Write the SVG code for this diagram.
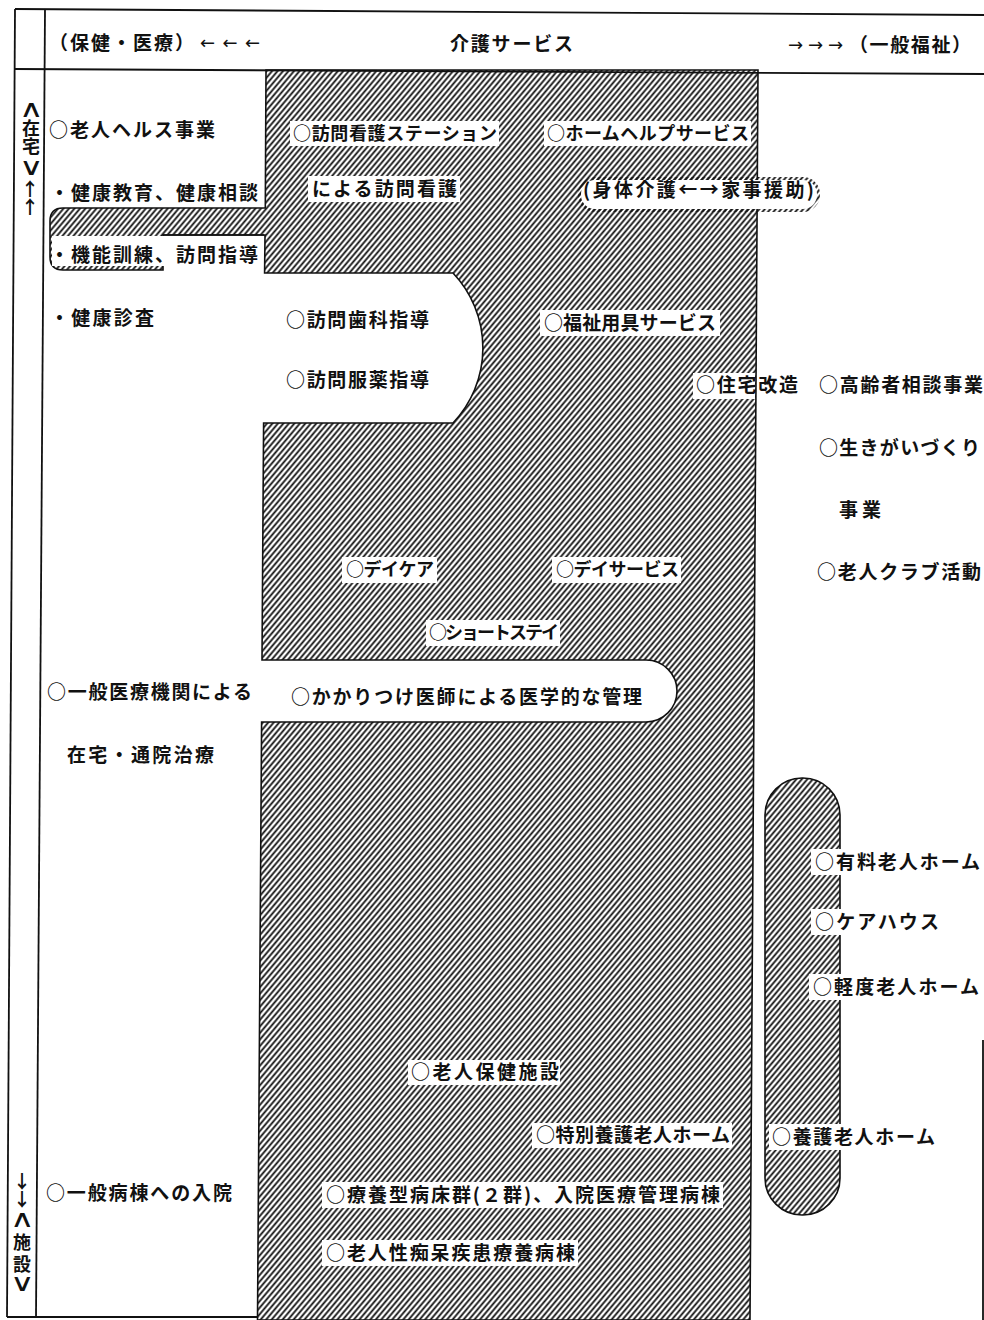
<svg xmlns="http://www.w3.org/2000/svg" width="984" height="1320" viewBox="0 0 984 1320">
<defs>
<pattern id="hatch" patternUnits="userSpaceOnUse" width="4.2" height="4.2" patternTransform="rotate(40)">
<line x1="2.1" y1="-1" x2="2.1" y2="5.2" stroke="#111" stroke-width="1.8"/>
</pattern>
<style>
.t{font-family:"Noto Sans CJK JP","Noto Sans CJK SC",sans-serif;font-size:19px;font-weight:bold;fill:#111}
.s{font-size:18px}
.a{font-family:"DejaVu Sans",sans-serif;font-size:18px;fill:#111}
.v{font-family:"Noto Sans CJK JP","Noto Sans CJK SC",sans-serif;font-size:18px;font-weight:bold;fill:#111;writing-mode:vertical-rl;text-orientation:upright}
.w{font-family:"DejaVu Sans",sans-serif;font-size:24px;font-weight:200;fill:#111;text-anchor:middle}
.ln{stroke:#111;stroke-width:1.8;fill:none}
.hz{fill:url(#hatch);stroke:#111;stroke-width:1.6}
.bx{fill:#fff}
</style>
</defs>
<rect width="984" height="1320" fill="#fff"/>

<g id="regions">
<path class="hz" d="M266,70 L758,70 L750,1320 L257.5,1320 L261.6,722 L646,722 A31,31 0 0 0 646,660 L262,660 L263.6,423 L453,423 A109,109 0 0 0 453,273 L264.6,273 L265,235 L163,235 L163,270 L63,270 Q50,270 50,257 L50,221 Q50,208 63,208 L265.3,208 Z"/>
<rect x="578" y="177" width="242" height="35" rx="17" fill="url(#hatch)"/>
<rect x="765" y="778" width="75" height="437" rx="37" class="hz"/>
</g>

<g id="frame">
<line class="ln" x1="15" y1="9" x2="984" y2="15"/>
<line class="ln" x1="15" y1="69" x2="984" y2="74"/>
<line class="ln" x1="15" y1="9" x2="7" y2="1317"/>
<line class="ln" x1="45" y1="10" x2="36" y2="1317"/>
<line class="ln" x1="7" y1="1317" x2="258" y2="1317"/>
<line class="ln" x1="983" y1="1040" x2="983" y2="1320"/>
</g>

<g id="header">
<text class="t" x="49" y="50" textLength="145" lengthAdjust="spacing">（保健・医療）</text>
<text class="a" x="200" y="49" textLength="60" lengthAdjust="spacing">←←←</text>
<text class="t" x="450" y="51" textLength="123" lengthAdjust="spacing">介護サービス</text>
<text class="a" x="788" y="51" textLength="55" lengthAdjust="spacing">→→→</text>
<text class="t" x="849" y="52" textLength="122" lengthAdjust="spacing">（一般福祉）</text>
</g>

<g id="axis-home">
<text class="w" transform="translate(31,117) scale(1.4,1)">∧</text>
<text class="v" x="31" y="119" textLength="36" lengthAdjust="spacing">在宅</text>
<text class="w" transform="translate(31,175) scale(1.4,1)">∨</text>
<text class="v" x="30" y="180" textLength="36" lengthAdjust="spacing">↑↑</text>
</g>
<g id="axis-facility">
<text class="v" x="22" y="1172" textLength="36" lengthAdjust="spacing">↓↓</text>
<text class="w" transform="translate(22,1227) scale(1.4,1)">∧</text>
<text class="v" x="22" y="1233" textLength="40" lengthAdjust="spacing">施設</text>
<text class="w" transform="translate(22,1291) scale(1.4,1)">∨</text>
</g>

<g id="n-rojin-health"><text class="t" x="49" y="137" textLength="166" lengthAdjust="spacing">○老人ヘルス事業</text></g>
<g id="n-kenko-kyoiku"><text class="t" x="50" y="200" textLength="208" lengthAdjust="spacing">・健康教育、健康相談</text></g>
<g id="n-kino-kunren">
<rect class="bx" x="52" y="236" width="210" height="30"/>
<line class="ln" x1="163" y1="235" x2="264" y2="235" style="stroke-width:1.6"/>
<text class="t" x="50" y="262" textLength="208" lengthAdjust="spacing">・機能訓練、訪問指導</text>
</g>
<g id="n-kenko-shinsa"><text class="t" x="50" y="325" textLength="104" lengthAdjust="spacing">・健康診査</text></g>
<g id="n-ippan-iryo">
<text class="t" x="47" y="699" textLength="205" lengthAdjust="spacing">○一般医療機関による</text>
<text class="t" x="67" y="762" textLength="147" lengthAdjust="spacing">在宅・通院治療</text>
</g>
<g id="n-ippan-byoto"><text class="t" x="46" y="1200" textLength="186" lengthAdjust="spacing">○一般病棟への入院</text></g>

<g id="n-homon-kango">
<rect class="bx" x="290" y="121" width="209" height="25"/>
<text class="t s" x="293" y="140" textLength="204" lengthAdjust="spacing">○訪問看護ステーション</text>
<rect class="bx" x="308" y="176" width="152" height="26"/>
<text class="t" x="312" y="196" textLength="145" lengthAdjust="spacing">による訪問看護</text>
</g>
<g id="n-home-help">
<rect class="bx" x="544" y="121" width="207" height="25"/>
<text class="t s" x="547" y="140" textLength="202" lengthAdjust="spacing">○ホームヘルプサービス</text>
<rect class="bx" x="581" y="180" width="236" height="29" rx="14"/>
<text class="t" x="583" y="197" textLength="231" lengthAdjust="spacing">(身体介護←→家事援助)</text>
</g>
<g id="n-shika"><text class="t" x="286" y="327" textLength="143" lengthAdjust="spacing">○訪問歯科指導</text></g>
<g id="n-fukuyaku"><text class="t" x="286" y="387" textLength="143" lengthAdjust="spacing">○訪問服薬指導</text></g>
<g id="n-fukushi-yogu">
<rect class="bx" x="540" y="310" width="180" height="26"/>
<text class="t" x="544" y="330" textLength="172" lengthAdjust="spacing">○福祉用具サービス</text>
</g>
<g id="n-jutaku">
<rect class="bx" x="693" y="373" width="62" height="26"/>
<text class="t" x="696" y="392" textLength="102" lengthAdjust="spacing">○住宅改造</text>
</g>
<g id="n-soudan"><text class="t" x="819" y="392" textLength="164" lengthAdjust="spacing">○高齢者相談事業</text></g>
<g id="n-ikigai">
<text class="t" x="819" y="455" textLength="161" lengthAdjust="spacing">○生きがいづくり</text>
<text class="t" x="839" y="517" textLength="42" lengthAdjust="spacing">事業</text>
</g>
<g id="n-club"><text class="t" x="817" y="579" textLength="164" lengthAdjust="spacing">○老人クラブ活動</text></g>
<g id="n-daycare">
<rect class="bx" x="342" y="557" width="95" height="26"/>
<text class="t s" x="346" y="576" textLength="88" lengthAdjust="spacing">○デイケア</text>
</g>
<g id="n-dayservice">
<rect class="bx" x="552" y="557" width="129" height="26"/>
<text class="t s" x="556" y="576" textLength="123" lengthAdjust="spacing">○デイサービス</text>
</g>
<g id="n-shortstay">
<rect class="bx" x="426" y="620" width="134" height="26"/>
<text class="t s" x="429" y="639" textLength="130" lengthAdjust="spacing">○ショートステイ</text>
</g>
<g id="n-kakaritsuke"><text class="t" x="291" y="704" textLength="351" lengthAdjust="spacing">○かかりつけ医師による医学的な管理</text></g>

<g id="n-yuryo">
<rect class="bx" x="811" y="849" width="32" height="26"/>
<text class="t" x="815" y="869" textLength="165" lengthAdjust="spacing">○有料老人ホーム</text>
</g>
<g id="n-carehouse">
<rect class="bx" x="811" y="909" width="32" height="26"/>
<text class="t" x="815" y="929" textLength="124" lengthAdjust="spacing">○ケアハウス</text>
</g>
<g id="n-keihi">
<rect class="bx" x="809" y="974" width="34" height="26"/>
<text class="t" x="813" y="994" textLength="166" lengthAdjust="spacing">○軽度老人ホーム</text>
</g>
<g id="n-yogo">
<rect class="bx" x="769" y="1124" width="74" height="26"/>
<text class="t" x="772" y="1144" textLength="163" lengthAdjust="spacing">○養護老人ホーム</text>
</g>

<g id="n-rojin-hoken">
<rect class="bx" x="408" y="1060" width="152" height="25"/>
<text class="t" x="411" y="1079" textLength="148" lengthAdjust="spacing">○老人保健施設</text>
</g>
<g id="n-tokuyo">
<rect class="bx" x="532" y="1123" width="200" height="25"/>
<text class="t" x="536" y="1142" textLength="194" lengthAdjust="spacing">○特別養護老人ホーム</text>
</g>
<g id="n-ryoyo">
<rect class="bx" x="322" y="1182" width="401" height="26"/>
<text class="t" x="326" y="1202" textLength="394" lengthAdjust="spacing">○療養型病床群(２群)、入院医療管理病棟</text>
</g>
<g id="n-chiho">
<rect class="bx" x="322" y="1240" width="256" height="26"/>
<text class="t" x="326" y="1260" textLength="249" lengthAdjust="spacing">○老人性痴呆疾患療養病棟</text>
</g>

<g id="connectors"></g>
</svg>
